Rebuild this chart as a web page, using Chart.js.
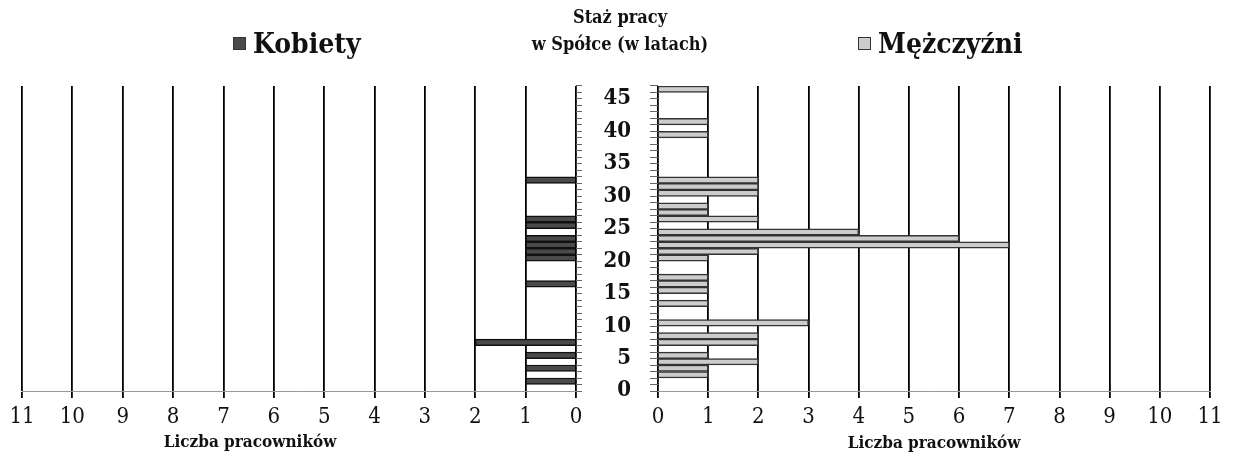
<!DOCTYPE html>
<html lang="pl">
<head>
<meta charset="utf-8">
<title>Staż pracy w Spółce</title>
<script src="https://cdn.jsdelivr.net/npm/chart.js@4.4.0/dist/chart.umd.min.js"></script>
<style>
  html, body { margin: 0; padding: 0; background: #fff; }
  #wrap { position: relative; width: 1243px; height: 466px; overflow: hidden;
          font-family: 'DejaVu Serif Condensed', 'Liberation Serif', serif; color: #111; }
  #lewy { position: absolute; left: 0; top: 0; width: 600px; height: 466px; }
  #prawy { position: absolute; left: 595px; top: 0; width: 648px; height: 466px; }
  .legenda { position: absolute; top: 27px; font-weight: bold; font-size: 28px;
             display: flex; align-items: center; white-space: nowrap; }
  .legenda .kwadrat { width: 13px; height: 13px; margin-right: 7px; box-sizing: border-box;
                      border: 1px solid #333; }
  #tytul { position: absolute; left: 510px; width: 220px; top: 3px; text-align: center;
           font-weight: bold; font-size: 18px; line-height: 27px; }
  #osKobiety { position: absolute; left: 150px; width: 200px; top: 431px; text-align: center;
               font-weight: bold; font-size: 17px; }
</style>
</head>
<body>
<div id="wrap">
  <div id="lewy"><canvas id="kobietyChart"></canvas></div>
  <div id="prawy"><canvas id="mezczyzniChart"></canvas></div>
  <div id="tytul">Staż pracy<br>w Spółce (w latach)</div>
  <div class="legenda" id="legKobiety" style="left:233px"></div>
  <div class="legenda" id="legMezczyzni" style="left:858px"></div>
  <div id="osKobiety">Liczba pracowników</div>
</div>
<script>
// staż pracy w latach (kategorie osi pionowej)
const staz = ['0', '1', '2', '3', '4', '5', '6', '7', '8', '9',
              '10', '11', '12', '13', '14', '15', '16', '17', '18', '19',
              '20', '21', '22', '23', '24', '25', '26', '27', '28', '29',
              '30', '31', '32', '33', '34', '35', '36', '37', '38', '39',
              '40', '41', '42', '43', '44', '45', '46'];

// liczba pracowników wg stażu
const kobiety = [0, 1, 0, 1, 0, 1, 0, 2, 0, 0,
                 0, 0, 0, 0, 0, 0, 1, 0, 0, 0,
                 1, 1, 1, 1, 0, 1, 1, 0, 0, 0,
                 0, 0, 1, 0, 0, 0, 0, 0, 0, 0,
                 0, 0, 0, 0, 0, 0, 0];
const mezczyzni = [0, 0, 1, 1, 2, 1, 0, 2, 2, 0,
                   3, 0, 0, 1, 0, 1, 1, 1, 0, 0,
                   1, 2, 7, 6, 4, 0, 2, 1, 1, 0,
                   2, 2, 2, 0, 0, 0, 0, 0, 0, 1,
                   0, 1, 0, 0, 0, 0, 1];

// zakres osi liczby pracowników
const osMin = 0;
const osMax = 11;

const czcionka = "'DejaVu Serif Condensed', 'Liberation Serif', serif";

function osX(odwrocona, tytul) {
    return {
        reverse: odwrocona,
        min: osMin,
        max: osMax,
        ticks: { stepSize: 1, color: '#111', padding: 6, font: { family: czcionka, size: 22 } },
        grid: { color: '#000', lineWidth: 1.8, tickLength: 7, tickColor: '#000' },
        border: { color: '#999', width: 1 },
        title: {
            display: tytul,
            text: 'Liczba pracowników',
            color: '#111',
            font: { family: czcionka, size: 17, weight: 'bold' },
            padding: { top: 0, bottom: 12 }
        },
        afterFit: function(scale) { scale.height = 75; }
    };
}

// Kobiety - lewa strona, oś odwrócona
const kobietyChart = new Chart(document.getElementById('kobietyChart'), {
    type: 'bar',
    data: {
        labels: staz,
        datasets: [{
            label: 'Kobiety',
            data: kobiety,
            backgroundColor: '#4a4a4a',
            borderColor: '#111',
            borderWidth: 1.5,
            barPercentage: 1,
            categoryPercentage: 1
        }]
    },
    options: {
        indexAxis: 'y',
        responsive: true,
        maintainAspectRatio: false,
        animation: false,
        layout: { padding: { left: 22, top: 86 } },
        plugins: { legend: { display: false }, tooltip: { enabled: false } },
        scales: {
            x: osX(true, false),
            y: {
                position: 'right',
                reverse: true,
                ticks: { display: false },
                grid: { drawOnChartArea: false, tickLength: 6, color: '#666' },
                border: { display: false },
                afterFit: function(scale) { scale.width = 24; }
            }
        }
    }
});

// Mężczyźni - prawa strona
const mezczyzniChart = new Chart(document.getElementById('mezczyzniChart'), {
    type: 'bar',
    data: {
        labels: staz,
        datasets: [{
            label: 'Mężczyźni',
            data: mezczyzni,
            backgroundColor: '#cccccc',
            borderColor: '#333',
            borderWidth: 1.5,
            barPercentage: 1,
            categoryPercentage: 1
        }]
    },
    options: {
        indexAxis: 'y',
        responsive: true,
        maintainAspectRatio: false,
        animation: false,
        layout: { padding: { right: 33, top: 86 } },
        plugins: { legend: { display: false }, tooltip: { enabled: false } },
        scales: {
            x: osX(false, true),
            y: {
                position: 'left',
                reverse: true,
                ticks: {
                    autoSkip: false,
                    padding: 19,
                    labelOffset: 3,
                    color: '#111',
                    font: { family: czcionka, size: 22, weight: 'bold' },
                    callback: function(val, i) {
                        return i % 5 === 0 ? this.getLabelForValue(val) : '';
                    }
                },
                grid: { drawOnChartArea: false, tickLength: 8, color: '#666' },
                border: { display: false },
                afterFit: function(scale) { scale.width = 63; }
            }
        }
    }
});

// legenda z danych wykresów
function legenda(id, chart) {
    const ds = chart.data.datasets[0];
    const el = document.getElementById(id);
    const box = document.createElement('span');
    box.className = 'kwadrat';
    box.style.background = ds.backgroundColor;
    const txt = document.createElement('span');
    txt.textContent = ds.label;
    el.appendChild(box);
    el.appendChild(txt);
}
legenda('legKobiety', kobietyChart);
legenda('legMezczyzni', mezczyzniChart);
</script>
</body>
</html>
